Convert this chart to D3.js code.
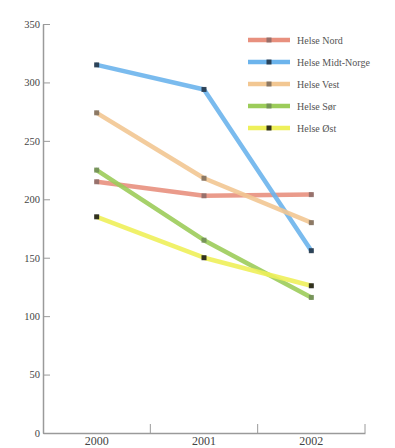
<!DOCTYPE html>
<html>
<head>
<meta charset="utf-8">
<script src="https://cdn.jsdelivr.net/npm/d3@7"></script>
<style>
body { margin: 0; background: #fff; }
svg text { font-family: "Liberation Serif", "DejaVu Serif", serif; }
</style>
</head>
<body>
<svg id="chart" width="395" height="448"></svg>
<script>
var svg = d3.select('#chart');

var years = ['2000', '2001', '2002'];
var series_names = ['Helse Nord', 'Helse Midt-Norge', 'Helse Vest', 'Helse Sør', 'Helse Øst'];
var nord = [215, 203, 204];
var midt = [315, 294, 156];
var vest = [274, 218, 180];
var sor = [225, 165, 116];
var ost = [185, 150, 126];
var y_ticks = [0, 50, 100, 150, 200, 250, 300, 350];

var line_colors = ['#e8907e', '#6cb4ec', '#f2c792', '#9ccc5a', '#eef05a'];
var marker_colors = ['#8a6a66', '#1f2e3e', '#7a6a5a', '#6f8a56', '#111111'];

var series = [nord, midt, vest, sor, ost].map(function(v, i) {
	return { name: series_names[i], values: v, color: line_colors[i], marker: marker_colors[i] };
});

var plot_left = 43, plot_right = 365, plot_top = 24, plot_bottom = 433;

var x = d3.scaleBand().domain(years).range([plot_left, plot_right]).padding(0);
var y = d3.scaleLinear().domain([0, 350]).range([plot_bottom, plot_top]);
var cx = d => x(d) + x.bandwidth() / 2;

// y axis
var y_axis = svg.append('g').attr('transform', 'translate(' + plot_left + ',0)')
	.call(d3.axisLeft(y).tickValues(y_ticks).tickSizeInner(-7).tickSizeOuter(0).tickPadding(3));
y_axis.select('.domain').attr('stroke', '#9a9a9a').attr('stroke-width', 1.5);
y_axis.selectAll('.tick line').attr('stroke', '#9a9a9a');
y_axis.selectAll('.tick text').attr('fill', '#444').style('font-size', '10.5px');

// x axis: labels in band centres, ticks on band edges
var x_axis = svg.append('g').attr('transform', 'translate(0,' + plot_bottom + ')')
	.call(d3.axisBottom(x).tickSize(0).tickPadding(3));
x_axis.select('.domain').attr('stroke', '#9a9a9a').attr('stroke-width', 1.5);
x_axis.selectAll('.tick text').attr('fill', '#444').style('font-size', '12px');

var edges = years.map(d => x(d) + x.bandwidth());
svg.append('g').selectAll('line').data(edges).enter().append('line')
	.attr('x1', d => d).attr('x2', d => d)
	.attr('y1', plot_bottom).attr('y2', plot_bottom - 9)
	.attr('stroke', '#9a9a9a').attr('stroke-width', 1);

// lines
var line = d3.line().x((d, i) => cx(years[i])).y(d => y(d));

svg.append('g').selectAll('path').data(series).enter().append('path')
	.attr('d', d => line(d.values))
	.attr('fill', 'none')
	.attr('stroke', d => d.color)
	.attr('stroke-width', 4.5)
	.attr('stroke-linejoin', 'round')
	.attr('stroke-linecap', 'round')
	.attr('opacity', 0.9);

// markers
series.forEach(function(s) {
	svg.append('g').selectAll('rect').data(s.values).enter().append('rect')
		.attr('x', (d, i) => cx(years[i]) - 2.5)
		.attr('y', d => y(d) - 2.5)
		.attr('width', 5).attr('height', 5)
		.attr('fill', s.marker)
		.attr('opacity', 0.85);
});

// legend
var legend = svg.append('g').attr('transform', 'translate(248,40)');
var rows = legend.selectAll('g').data(series).enter().append('g')
	.attr('transform', (d, i) => 'translate(0,' + (i * 22) + ')');
rows.append('line')
	.attr('x1', 0).attr('x2', 42).attr('y1', 0).attr('y2', 0)
	.attr('stroke', d => d.color).attr('stroke-width', 4.5);
rows.append('rect')
	.attr('x', 18.5).attr('y', -2.5).attr('width', 5).attr('height', 5)
	.attr('fill', d => d.marker).attr('opacity', 0.85);
rows.append('text')
	.attr('x', 49).attr('y', 0).attr('dy', '0.35em')
	.attr('fill', '#555').style('font-size', '10px')
	.text(d => d.name);
</script>
</body>
</html>
